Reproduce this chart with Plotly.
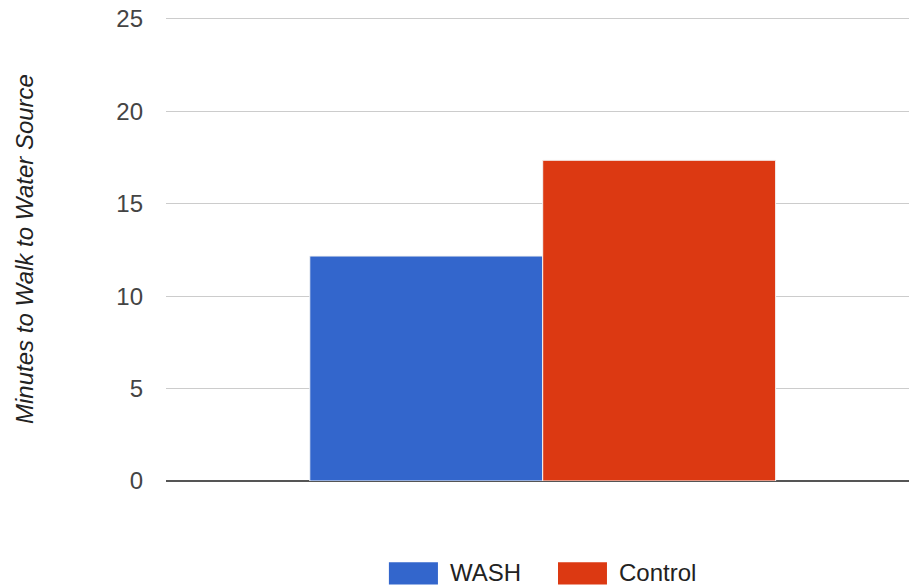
import plotly.graph_objects as go

categories = [""]
series_names = ["WASH", "Control"]
wash_values = [12.17]
control_values = [17.35]
colors = ["#3366cc", "#dc3912"]
y_ticks = [0, 5, 10, 15, 20, 25]

fig = go.Figure()
for name, vals, col in zip(series_names, [wash_values, control_values], colors):
    fig.add_trace(go.Bar(
        x=categories, y=vals, name=name,
        marker=dict(color=col, line=dict(color="#f4f4f4", width=1)),
    ))

# legend drawn as wide swatches + labels below the plot (paper coordinates)
legend_swatch_x = [(0.300, 0.366), (0.5276, 0.5935)]
legend_text_x = [0.379, 0.607]
for name, col, (x0, x1), tx in zip(series_names, colors, legend_swatch_x, legend_text_x):
    fig.add_shape(type="rect", xref="paper", yref="paper", x0=x0, x1=x1,
                  y0=-0.223, y1=-0.175, fillcolor=col, line=dict(width=0))
    fig.add_annotation(text=name, xref="paper", yref="paper", x=tx, y=-0.197,
                       xanchor="left", yanchor="middle", showarrow=False,
                       font=dict(size=24, color="#222"))

fig.update_layout(
    width=909, height=585,
    margin=dict(l=166, r=0, t=17, b=104),
    plot_bgcolor="white", paper_bgcolor="white",
    barmode="group", bargap=0.373, bargroupgap=0.0,
    font=dict(family="Liberation Sans, Arial, sans-serif", size=24, color="#444"),
    xaxis=dict(range=[-0.507, 0.493], showticklabels=False, showgrid=False,
               zeroline=False, showline=False),
    yaxis=dict(range=[0, 25.1], tickvals=y_ticks, gridcolor="#cccccc", gridwidth=1,
               zeroline=True, zerolinecolor="#555555", zerolinewidth=2,
               showline=False, ticks="", ticklabelstandoff=22,
               tickfont=dict(size=24, color="#444"),
               title=dict(text="<i>Minutes to Walk to Water Source</i>",
                          font=dict(size=24, color="#222"), standoff=75)),
    showlegend=False,
)

fig.write_html("out.html")
